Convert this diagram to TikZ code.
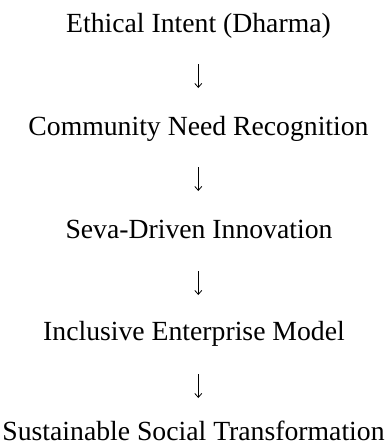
\documentclass[tikz,border=0pt]{standalone}
\usepackage{fontspec}
\setmainfont{Liberation Serif}
\usepackage{xcolor}
\usepackage{tikz}
\usetikzlibrary{arrows.meta}
\definecolor{ink}{HTML}{000000}

\begin{document}
\begin{tikzpicture}[x=1pt, y=-1pt, every node/.style={color=ink, font=\fontsize{27.7}{33}\selectfont, inner sep=0pt, anchor=base}]
  \useasboundingbox (0,0) rectangle (387,445);

  \node (intent)    at (198.5,32)  {Ethical Intent (Dharma)};
  \node (need)      at (198.5,135) {Community Need Recognition};
  \node (seva)      at (199,238)   {Seva-Driven Innovation};
  \node (model)     at (194,340)   {Inclusive Enterprise Model};
  \node (transform) at (193.5,440.5) {Sustainable Social Transformation};

  \foreach \k/\y in {1/64, 2/167, 3/271, 4/374} {
    \coordinate (top\k) at (198.3,\y);
    \coordinate (bot\k) at (198.3,\y+24);
    \draw[ink, line width=0.8pt, -{Straight Barb[length=4pt, width=7pt]}] (top\k) -- (bot\k);
  }
\end{tikzpicture}
\end{document}
